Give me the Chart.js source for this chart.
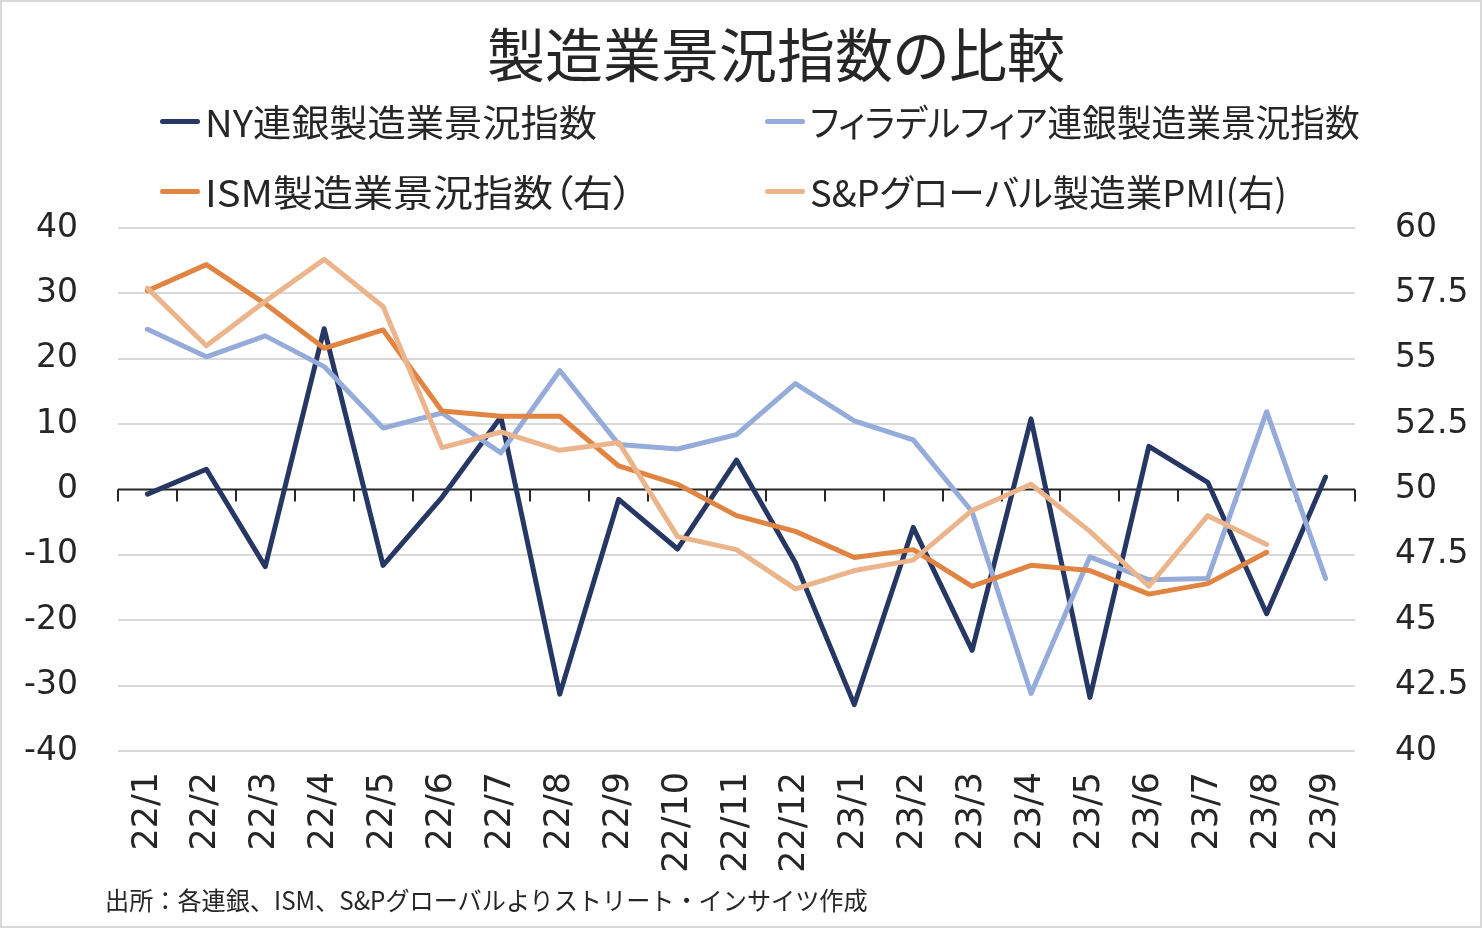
<!DOCTYPE html>
<html lang="ja">
<head>
<meta charset="utf-8">
<script src="https://cdn.jsdelivr.net/npm/chart.js@4.4.1/dist/chart.umd.min.js"></script>
<style>
  html, body { margin: 0; padding: 0; background: #fff; }
  #wrap {
    position: relative; width: 1482px; height: 928px; overflow: hidden;
    font-family: "Noto Sans CJK JP", sans-serif; color: #262626;
    font-feature-settings: "palt";
  }
  #frame { position: absolute; left: 0; top: 0; width: 1482px; height: 928px; box-sizing: border-box; border: 2px solid #d9d9d9; pointer-events: none; }
  #chart { position: absolute; left: 0; top: 0; }
  .title {
    position: absolute; left: 276px; width: 1000px; top: 18px; text-align: center;
    font-size: 58px; line-height: 68px;
  }
  .leg { position: absolute; display: flex; align-items: center; height: 50px; font-size: 37px; white-space: nowrap; }
  .leg i { display: inline-block; width: 40px; height: 5px; border-radius: 3px; margin-right: 5px; flex: none; }
  .leg span { display: inline-block; transform-origin: left center; }
  .note { position: absolute; left: 105px; top: 881px; font-size: 25px; line-height: 36px; white-space: nowrap; font-feature-settings: normal; transform-origin: left center; }
</style>
</head>
<body>
<div id="wrap">
  <canvas id="chart" width="1482" height="928"></canvas>
  <div class="title">製造業景況指数の比較</div>
  <div id="legend"></div>
  <div class="note" id="note">出所：各連銀、ISM、S&amp;Pグローバルよりストリート・インサイツ作成</div>
  <div id="frame"></div>
</div>
<script>
const months = ["22/1", "22/2", "22/3", "22/4", "22/5", "22/6", "22/7", "22/8", "22/9", "22/10", "22/11", "22/12",
  "23/1", "23/2", "23/3", "23/4", "23/5", "23/6", "23/7", "23/8", "23/9"];

// left axis (diffusion index)
const nyFed = [-0.7, 3.1, -11.8, 24.6, -11.6, -1.2, 11.1, -31.3, -1.5, -9.1, 4.5, -11.2,
  -32.9, -5.8, -24.6, 10.8, -31.8, 6.6, 1.1, -19.0, 1.9];
const phillyFed = [24.5, 20.3, 23.5, 18.8, 9.4, 11.7, 5.6, 18.2, 6.9, 6.2, 8.4, 16.2,
  10.5, 7.6, -3.4, -31.2, -10.3, -13.8, -13.6, 11.9, -13.6];

// right axis (PMI)
const ism = [57.6, 58.6, 57.1, 55.4, 56.1, 53.0, 52.8, 52.8, 50.9, 50.2, 49.0, 48.4,
  47.4, 47.7, 46.3, 47.1, 46.9, 46.0, 46.4, 47.6, null];
const spPmi = [57.7, 55.5, 57.2, 58.8, 57.0, 51.6, 52.2, 51.5, 51.8, 48.2, 47.7, 46.2,
  46.9, 47.3, 49.2, 50.2, 48.4, 46.3, 49.0, 47.9, null];

const leftTicks = [-40, -30, -20, -10, 0, 10, 20, 30, 40];
const rightTicks = [40, 42.5, 45, 47.5, 50, 52.5, 55, 57.5, 60];

const seriesNames = ["NY連銀製造業景況指数", "フィラデルフィア連銀製造業景況指数", "ISM製造業景況指数（右）", "S&Pグローバル製造業PMI(右)"];
const colors = ["#253762", "#95abda", "#e18442", "#ebb48a"];

// legend, 2 x 2 ; text widths
const legendPos = [[160, 96], [765, 96], [160, 166], [765, 166]];
const legendTextW = [392, 550, 428, 477];
const legendEl = document.getElementById("legend");
seriesNames.forEach((name, i) => {
  const d = document.createElement("div");
  d.className = "leg";
  d.style.left = legendPos[i][0] + "px";
  d.style.top = legendPos[i][1] + "px";
  d.innerHTML = '<i style="background:' + colors[i] + '"></i>';
  const s = document.createElement("span");
  s.textContent = name;
  d.appendChild(s);
  legendEl.appendChild(d);
  const w = s.getBoundingClientRect().width;
  s.style.transform = "scaleX(" + (legendTextW[i] / w).toFixed(3) + ")";
});
const note = document.getElementById("note");
note.style.transform = "scaleX(" + (763 / note.getBoundingClientRect().width).toFixed(3) + ")";

// x axis drawn at zero with tick marks between categories (Excel style)
const zeroAxis = {
  id: "zeroAxis",
  beforeDatasetsDraw(chart) {
    const { ctx, chartArea, scales } = chart;
    const y0 = scales.y.getPixelForValue(0);
    const n = months.length;
    const step = (chartArea.right - chartArea.left) / n;
    ctx.save();
    ctx.strokeStyle = "#262626";
    ctx.lineWidth = 2;
    ctx.beginPath();
    ctx.moveTo(chartArea.left, y0);
    ctx.lineTo(chartArea.right, y0);
    for (let i = 0; i <= n; i++) {
      const x = Math.round(chartArea.left + i * step);
      ctx.moveTo(x, y0);
      ctx.lineTo(x, y0 + 12);
    }
    ctx.stroke();
    ctx.restore();
  }
};

const lineStyle = {
  borderWidth: 5,
  pointRadius: 0,
  tension: 0,
  borderCapStyle: "round",
  borderJoinStyle: "round",
  spanGaps: false
};

new Chart(document.getElementById("chart"), {
  type: "line",
  data: {
    labels: months,
    datasets: [
      { ...lineStyle, label: seriesNames[0], data: nyFed, borderColor: colors[0], yAxisID: "y", order: 4 },
      { ...lineStyle, label: seriesNames[1], data: phillyFed, borderColor: colors[1], yAxisID: "y", order: 3 },
      { ...lineStyle, label: seriesNames[2], data: ism, borderColor: colors[2], yAxisID: "y1", order: 2 },
      { ...lineStyle, label: seriesNames[3], data: spPmi, borderColor: colors[3], yAxisID: "y1", order: 1 },
    ],
  },
  options: {
    responsive: false,
    animation: false,
    layout: { padding: { top: 228, left: 0, right: 0, bottom: 0 } },
    plugins: {
      legend: { display: false },
      title: { display: false },
      tooltip: { enabled: false },
    },
    scales: {
      x: {
        offset: true,
        grid: { display: false, drawTicks: false },
        border: { display: false },
        ticks: {
          minRotation: 90,
          maxRotation: 90,
          padding: 21,
          color: "#262626",
          font: { family: "DejaVu Sans", size: 35 },
        },
        afterFit: (s) => { s.height = 928 - 751; },
      },
      y: {
        position: "left",
        min: -40,
        max: 40,
        afterBuildTicks: (s) => { s.ticks = leftTicks.map((v) => ({ value: v })); },
        grid: {
          drawTicks: false,
          lineWidth: 2,
          color: (c) => (c.tick && c.tick.value === 0 ? "rgba(0,0,0,0)" : "#d9d9d9"),
        },
        border: { display: false },
        ticks: {
          padding: 40,
          color: "#262626",
          font: { family: "DejaVu Sans", size: 33 },
        },
        afterFit: (s) => { s.width = 118; },
      },
      y1: {
        position: "right",
        min: 40,
        max: 60,
        afterBuildTicks: (s) => { s.ticks = rightTicks.map((v) => ({ value: v })); },
        grid: { display: false, drawTicks: false },
        border: { display: false },
        ticks: {
          padding: 40,
          color: "#262626",
          font: { family: "DejaVu Sans", size: 33 },
        },
        afterFit: (s) => { s.width = 1482 - 1355; },
      },
    },
  },
  plugins: [zeroAxis],
});
</script>
</body>
</html>
